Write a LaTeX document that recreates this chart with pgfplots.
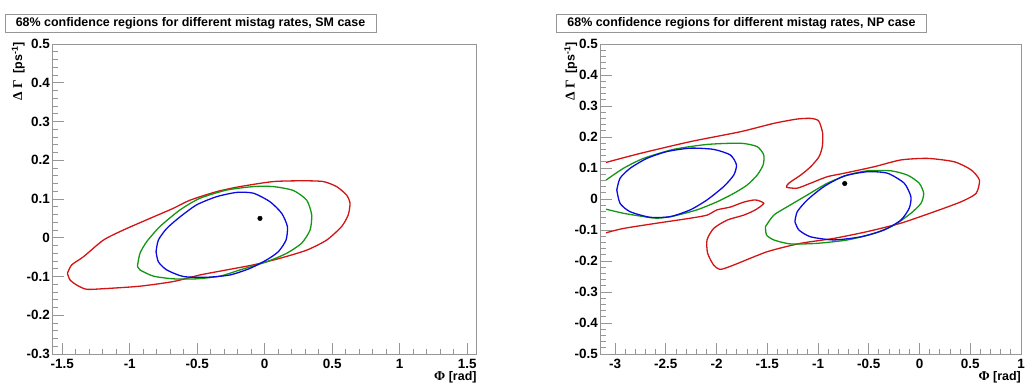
\documentclass[border=0pt]{standalone}
\usepackage{pgfplots}
\pgfplotsset{compat=1.18}
\usepackage{fontspec}
\setmainfont{Liberation Sans}
\newfontfamily\grk{Liberation Serif}
\definecolor{cred}{RGB}{210,20,20}
\definecolor{cgreen}{RGB}{20,150,20}
\definecolor{cblue}{RGB}{10,10,225}
\definecolor{frm}{RGB}{150,150,150}
\pgfplotsset{
  rootstyle/.style={
    scale only axis, height=310bp,
    axis line style={frm, line width=0.9bp},
    tick style={frm, line width=0.9bp},
    major tick length=11bp, minor tick length=5.5bp,
    tick align=inside, xtick pos=bottom, ytick pos=left,
    minor x tick num=4, minor y tick num=4,
    ticklabel style={font=\fontsize{13.5}{14}\selectfont\bfseries},
    xticklabel style={inner sep=0pt, anchor=north, yshift=-5bp},
    yticklabel style={inner sep=0pt, anchor=east, xshift=-2.7bp},
    every axis x label/.style={at={(axis description cs:1,0)}, anchor=north east, inner sep=0pt, yshift=-17bp, font=\fontsize{12.5}{13}\selectfont\bfseries},
    every axis y label/.style={rotate=90, anchor=east, inner sep=0pt, font=\fontsize{12.5}{13}\selectfont\bfseries},
    xlabel={{\grk\fontsize{13.5}{14}\selectfont Φ} [rad]},
    ylabel={{\grk\fontsize{13.5}{14}\selectfont Δ Γ} \ [ps\textsuperscript{-1}]},
    clip=true,
  },
  rl/.style={cred, line width=1.3bp, smooth, tension=0.4, mark=none},
  gl/.style={cgreen, line width=1.3bp, smooth, tension=0.4, mark=none},
  bl/.style={cblue, line width=1.3bp, smooth, tension=0.4, mark=none},
}
\begin{document}
\begin{tikzpicture}[x=1bp,y=1bp]
\path[use as bounding box] (0,0) rectangle (1026,389);
% ---------------- left panel (SM) ----------------
\begin{axis}[rootstyle, at={(52.7bp,35bp)}, anchor=south west, width=424bp,
  xmin=-1.5708, xmax=1.5708, ymin=-0.3, ymax=0.5,
  xtick={-1.5,-1,-0.5,0,0.5,1,1.5}, xticklabels={-1.5,-1,-0.5,0,0.5,1,1.5},
  ytick={-0.3,-0.2,-0.1,0,0.1,0.2,0.3,0.4,0.5}, yticklabels={-0.3,-0.2,-0.1,0,0.1,0.2,0.3,0.4,0.5},
  ylabel style={at={(axis description cs:-0.081,1.006)}}]
\addplot[rl] coordinates {(-1.462,-0.092) (-1.430,-0.070) (-1.343,-0.049) (-1.195,-0.006) (-1.047,0.020) (-0.850,0.050) (-0.677,0.076) (-0.553,0.097) (-0.356,0.119) (-0.183,0.132) (0.064,0.145) (0.286,0.147) (0.434,0.145) (0.533,0.132) (0.607,0.110) (0.632,0.089) (0.619,0.059) (0.570,0.029) (0.459,-0.006) (0.311,-0.032) (0.113,-0.053) (-0.084,-0.070) (-0.282,-0.083) (-0.479,-0.096) (-0.677,-0.113) (-0.924,-0.125) (-1.171,-0.131) (-1.319,-0.133) (-1.393,-0.122) (-1.442,-0.109) (-1.462,-0.092)};
\addplot[gl] coordinates {(-0.943,-0.073) (-0.924,-0.040) (-0.874,-0.010) (-0.776,0.029) (-0.627,0.072) (-0.479,0.102) (-0.282,0.123) (-0.084,0.132) (0.064,0.132) (0.212,0.122) (0.311,0.097) (0.348,0.059) (0.336,0.020) (0.274,-0.014) (0.163,-0.040) (0.015,-0.062) (-0.183,-0.083) (-0.331,-0.099) (-0.504,-0.106) (-0.677,-0.106) (-0.825,-0.099) (-0.924,-0.083) (-0.943,-0.073)};
\addplot[bl] coordinates {(-0.805,-0.036) (-0.788,-0.006) (-0.726,0.024) (-0.627,0.054) (-0.504,0.085) (-0.356,0.106) (-0.208,0.117) (-0.084,0.115) (0.039,0.093) (0.126,0.063) (0.168,0.029) (0.158,-0.006) (0.101,-0.036) (0.015,-0.057) (-0.109,-0.079) (-0.257,-0.096) (-0.430,-0.102) (-0.603,-0.100) (-0.726,-0.083) (-0.788,-0.062) (-0.805,-0.036)};
\addplot[only marks, mark=*, mark size=2.3bp, black] coordinates {(-0.035,0.05)};
\end{axis}
% ---------------- right panel (NP) ----------------
\begin{axis}[rootstyle, at={(600.7bp,35bp)}, anchor=south west, width=420.3bp,
  xmin=-3.14159, xmax=1, ymin=-0.5, ymax=0.5,
  xtick={-3,-2.5,-2,-1.5,-1,-0.5,0,0.5,1}, xticklabels={-3,-2.5,-2,-1.5,-1,-0.5,0,0.5,1},
  ytick={-0.5,-0.4,-0.3,-0.2,-0.1,0,0.1,0.2,0.3,0.4,0.5}, yticklabels={-0.5,-0.4,-0.3,-0.2,-0.1,0,0.1,0.2,0.3,0.4,0.5},
  ylabel style={at={(axis description cs:-0.071,1.006)}}]
\addplot[rl] coordinates {(-3.089,0.118) (-2.753,0.147) (-2.259,0.185) (-1.765,0.217) (-1.436,0.244) (-1.205,0.258) (-1.073,0.260) (-0.994,0.252) (-0.955,0.213) (-0.958,0.169) (-0.991,0.136) (-1.073,0.104) (-1.172,0.077) (-1.288,0.051) (-1.310,0.038) (-1.205,0.035) (-1.073,0.051) (-0.908,0.072) (-0.744,0.083) (-0.448,0.104) (-0.184,0.126) (0.080,0.131) (0.343,0.120) (0.508,0.094) (0.590,0.061) (0.557,0.018) (0.409,-0.009) (0.145,-0.041) (-0.184,-0.078) (-0.513,-0.105) (-0.843,-0.127) (-1.172,-0.143) (-1.501,-0.170) (-1.831,-0.213) (-1.962,-0.227) (-2.029,-0.213) (-2.088,-0.175) (-2.094,-0.132) (-2.029,-0.095) (-1.896,-0.068) (-1.732,-0.052) (-1.617,-0.035) (-1.535,-0.014) (-1.617,-0.003) (-1.732,-0.010) (-1.864,-0.026) (-1.995,-0.035) (-2.094,-0.052) (-2.259,-0.062) (-2.588,-0.078) (-2.918,-0.095) (-3.089,-0.109)};
\addplot[gl] coordinates {(-3.089,0.061) (-2.918,0.099) (-2.720,0.131) (-2.424,0.160) (-2.094,0.176) (-1.765,0.180) (-1.600,0.169) (-1.535,0.142) (-1.541,0.110) (-1.600,0.077) (-1.699,0.045) (-1.831,0.018) (-1.995,-0.009) (-2.193,-0.035) (-2.424,-0.055) (-2.588,-0.062) (-2.753,-0.055) (-2.918,-0.046) (-3.089,-0.033)};
\addplot[gl] coordinates {(-1.518,-0.089) (-1.436,-0.052) (-1.303,-0.025) (-1.106,0.013) (-0.908,0.051) (-0.710,0.077) (-0.513,0.091) (-0.283,0.091) (-0.118,0.077) (-0.003,0.051) (0.041,0.018) (0.014,-0.014) (-0.085,-0.046) (-0.250,-0.084) (-0.448,-0.111) (-0.710,-0.132) (-1.007,-0.143) (-1.271,-0.145) (-1.436,-0.132) (-1.508,-0.116) (-1.518,-0.089)};
\addplot[bl] coordinates {(-2.983,0.029) (-2.951,0.067) (-2.852,0.099) (-2.687,0.131) (-2.489,0.153) (-2.259,0.164) (-2.029,0.160) (-1.864,0.142) (-1.804,0.110) (-1.831,0.077) (-1.930,0.040) (-2.094,-0.003) (-2.259,-0.035) (-2.457,-0.057) (-2.654,-0.059) (-2.852,-0.041) (-2.951,-0.014) (-2.983,0.029)};
\addplot[bl] coordinates {(-1.228,-0.073) (-1.205,-0.041) (-1.106,-0.003) (-0.942,0.040) (-0.744,0.074) (-0.513,0.088) (-0.315,0.083) (-0.151,0.051) (-0.085,0.007) (-0.102,-0.030) (-0.184,-0.068) (-0.349,-0.100) (-0.579,-0.122) (-0.843,-0.132) (-1.073,-0.122) (-1.189,-0.100) (-1.228,-0.073)};
\addplot[only marks, mark=*, mark size=2.3bp, black] coordinates {(-0.737,0.05)};
\end{axis}
% ---------------- titles ----------------
\node[draw=frm, fill=white, line width=0.8bp, minimum width=371bp, minimum height=18bp, inner sep=0pt, font=\fontsize{12.5}{13}\selectfont\bfseries] at (190.5,366) {68\% confidence regions for different mistag rates, SM case};
\node[draw=frm, fill=white, line width=0.8bp, minimum width=370bp, minimum height=18bp, inner sep=0pt, font=\fontsize{12.5}{13}\selectfont\bfseries] at (741.5,366) {68\% confidence regions for different mistag rates, NP case};
\end{tikzpicture}
\end{document}
